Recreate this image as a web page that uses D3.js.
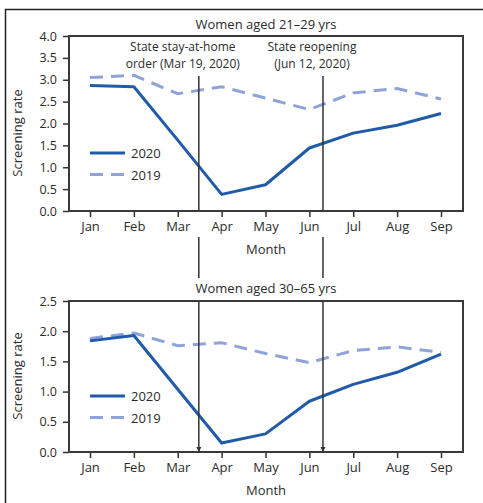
<!DOCTYPE html>
<html>
<head>
<meta charset="utf-8">
<script src="https://cdn.jsdelivr.net/npm/d3@7"></script>
<style>
  body { margin: 0; background: #fff; }
  text { font-family: "Open Sans", "Noto Sans", sans-serif; fill: #2b2b2b; }
</style>
</head>
<body>
<script>
// data
const months = ["Jan", "Feb", "Mar", "Apr", "May", "Jun", "Jul", "Aug", "Sep"]
const young2020 = [2.87, 2.84, 1.62, 0.38, 0.60, 1.44, 1.78, 1.96, 2.23]
const young2019 = [3.05, 3.10, 2.68, 2.84, 2.58, 2.32, 2.70, 2.80, 2.56]
const older2020 = [1.84, 1.93, 1.04, 0.15, 0.30, 0.84, 1.12, 1.32, 1.62]
const older2019 = [1.88, 1.97, 1.76, 1.81, 1.63, 1.48, 1.68, 1.74, 1.65]
const youngTicks = [0, 0.5, 1, 1.5, 2, 2.5, 3, 3.5, 4]
const olderTicks = [0, 0.5, 1, 1.5, 2, 2.5]
// events as position along month index (Mar 19, Jun 12)
const events = [
  { pos: 2.48, lines: ["State stay-at-home", "order (Mar 19, 2020)"] },
  { pos: 5.31, lines: ["State reopening", "(Jun 12, 2020)"] }
]

const W = 483, H = 503
const c2020 = "#1f5ba8", c2019 = "#8fa3d9"

const svg = d3.select("body").append("svg")
    .attr("width", W).attr("height", H)

// outer frame (left + top)
svg.append("path")
    .attr("d", "M5.5," + H + " V9.5 H" + W)
    .attr("fill", "none").attr("stroke", "#222").attr("stroke-width", 1.5)

const x = d3.scaleLinear().domain([0, 8]).range([90, 441])
const left = 69, right = 463

const panels = [
  { title: "Women aged 21\u201329 yrs", top: 36, bottom: 211, max: 4, ticks: youngTicks,
    s2020: young2020, s2019: young2019, titleY: 29, legY: 153, labelY: 133 },
  { title: "Women aged 30\u201365 yrs", top: 301, bottom: 452, max: 2.5, ticks: olderTicks,
    s2020: older2020, s2019: older2019, titleY: 293, legY: 396, labelY: 376 }
]

panels.forEach(p => {
  const y = d3.scaleLinear().domain([0, p.max]).range([p.bottom, p.top])
  const g = svg.append("g")

  // y axis
  const ya = g.append("g").attr("transform", "translate(" + left + ",0)")
      .call(d3.axisLeft(y).tickValues(p.ticks).tickFormat(d3.format(".1f")).tickSize(6).tickPadding(6))
  ya.select(".domain").remove()
  ya.selectAll("line").attr("stroke", "#333").attr("stroke-width", 1.5)
  ya.selectAll("text").style("font-size", "12.5px").attr("fill", "#2b2b2b")

  // x axis
  const xa = g.append("g").attr("transform", "translate(0," + p.bottom + ")")
      .call(d3.axisBottom(x).tickValues(d3.range(9)).tickFormat(i => months[i]).tickSize(6).tickPadding(5))
  xa.select(".domain").remove()
  xa.selectAll("line").attr("stroke", "#333").attr("stroke-width", 1.5)
  xa.selectAll("text").style("font-size", "13px").attr("fill", "#2b2b2b")

  // plot box
  g.append("rect")
      .attr("x", left).attr("y", p.top)
      .attr("width", right - left).attr("height", p.bottom - p.top)
      .attr("fill", "none").attr("stroke", "#3a3a3a").attr("stroke-width", 2)

  g.append("text")
      .attr("x", (left + right) / 2).attr("y", p.titleY)
      .attr("text-anchor", "middle").style("font-size", "13px")
      .text(p.title)

  g.append("text")
      .attr("transform", "translate(22," + p.labelY + ") rotate(-90)")
      .attr("text-anchor", "middle").style("font-size", "13px")
      .text("Screening rate")

  g.append("text")
      .attr("x", (left + right) / 2).attr("y", p.bottom + 43)
      .attr("text-anchor", "middle").style("font-size", "13px")
      .text("Month")

  const line = d3.line().x((d, i) => x(i)).y(d => y(d))

  g.append("path").datum(p.s2019)
      .attr("d", line).attr("fill", "none")
      .attr("stroke", c2019).attr("stroke-width", 3)
      .attr("stroke-dasharray", "13,8")

  g.append("path").datum(p.s2020)
      .attr("d", line).attr("fill", "none")
      .attr("stroke", c2020).attr("stroke-width", 3)
      .attr("stroke-linejoin", "round")

  // legend
  const leg = [["2020", c2020, null], ["2019", c2019, "13,8"]]
  leg.forEach((l, i) => {
    const ly = p.legY + i * 21.5
    g.append("line")
        .attr("x1", 90).attr("x2", 125).attr("y1", ly).attr("y2", ly)
        .attr("stroke", l[1]).attr("stroke-width", 3)
        .attr("stroke-dasharray", l[2])
    g.append("text")
        .attr("x", 131).attr("y", ly + 5)
        .style("font-size", "13px")
        .text(l[0])
  })
})

// event lines crossing both panels
const defs = svg.append("defs")
defs.append("marker")
    .attr("id", "arrowHead")
    .attr("viewBox", "0 -5 10 10")
    .attr("refX", 10).attr("refY", 0)
    .attr("orient", "auto")
    .attr("markerWidth", 5).attr("markerHeight", 11)
    .attr("markerUnits", "userSpaceOnUse")
  .append("path")
    .attr("d", "M0,-5 L10,0 L0,5 Z")
    .attr("fill", "#333")

const segs = [[76, 211], [237, 278], [301, 452]]
events.forEach(e => {
  const ex = x(e.pos)
  segs.forEach((s, i) => {
    svg.append("line")
        .attr("x1", ex).attr("x2", ex).attr("y1", s[0]).attr("y2", s[1])
        .attr("stroke", "#333").attr("stroke-width", 1.5)
        .attr("marker-end", i === 2 ? "url(#arrowHead)" : null)
  })
  e.lines.forEach((t, j) => {
    svg.append("text")
        .attr("x", ex - (e.pos < 4 ? 16 : 11)).attr("y", 51 + j * 16.5)
        .attr("text-anchor", "middle").style("font-size", "12px")
        .text(t)
  })
})
</script>
</body>
</html>
